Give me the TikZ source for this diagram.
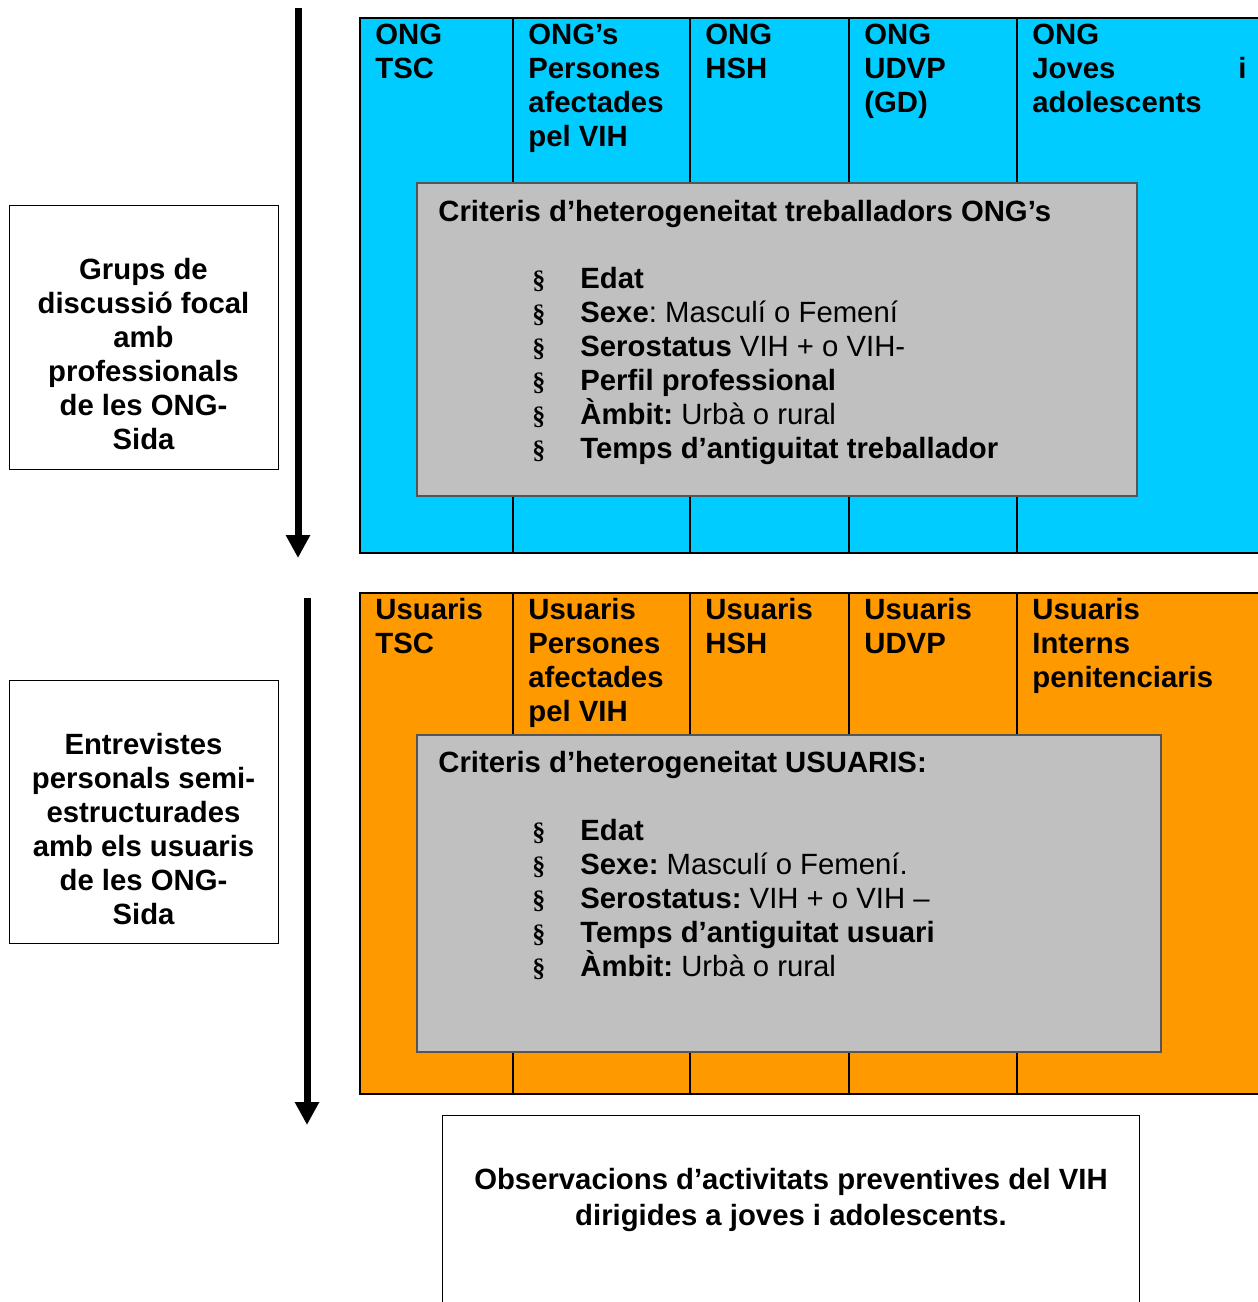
\documentclass[tikz,border=0pt]{standalone}
\usepackage{fontspec}
\setmainfont{Liberation Sans}
\newfontfamily\sectfont{Liberation Serif}
\usetikzlibrary{arrows.meta,positioning}

\definecolor{ongblue}{HTML}{00CCFF}
\definecolor{usuorange}{HTML}{FF9900}
\definecolor{critgray}{HTML}{C0C0C0}
\definecolor{critedge}{HTML}{555555}

\newcommand{\bul}{\makebox[24pt][l]{\sectfont\bfseries\fontsize{13}{17}\selectfont §}}

\tikzset{
  tablebox/.style={draw=black, line width=1pt},
  coldiv/.style={draw=black, line width=1pt},
  critbox/.style={fill=critgray, draw=critedge, line width=0.6pt},
  sidebox/.style={draw=black, line width=0.5pt},
  hdr/.style={anchor=north west, inner sep=0pt, align=left, font=\bfseries},
  crittitle/.style={anchor=north west, inner sep=0pt, font=\bfseries},
  crititems/.style={anchor=north west, inner sep=0pt, align=left},
  sidetext/.style={anchor=north, inner sep=0pt, align=center, font=\bfseries},
  flow/.style={line width=3.5pt, -{Triangle[length=11.5pt,width=11.5pt]}},
}

\begin{document}
\frenchspacing
\fontsize{14.65pt}{17pt}\selectfont
\begin{tikzpicture}[x=0.5pt, y=-0.5pt]
  \useasboundingbox (0,0) rectangle (1258,1302);

  % ---- focus groups with ONG professionals ----
  \coordinate (a1top) at (298,8);
  \coordinate (a1end) at (298,558);
  \draw[flow] (a1top) -- (a1end);

  \draw[sidebox] (9,205) rectangle (278,469);
  \node[sidetext] (grups) at (143.5,257.5) {Grups de\\discussió focal\\amb\\professionals\\de les ONG-\\Sida};

  \fill[ongblue] (360,18) rectangle (1270,553);
  \foreach \cx in {513,690,849,1017}
    \draw[coldiv] (\cx,18) -- (\cx,553);
  \draw[tablebox] (360,18) rectangle (1270,553);

  \node[hdr] (ongtsc) at (375,24) {ONG\\TSC};
  \node[hdr] (ongvih) at (528,24) {ONG’s\\Persones\\afectades\\pel VIH};
  \node[hdr] (onghsh) at (705,24) {ONG\\HSH};
  \node[hdr] (ongudvp) at (864,24) {ONG\\UDVP\\(GD)};
  \node[hdr] (ongjoves) at (1032,24) {ONG\\\makebox[107pt][l]{Joves\hfill i}\\adolescents};

  \draw[critbox] (417,183) rectangle (1137,496);
  \node[crittitle] (crit1) at (438,199.5) {Criteris d’heterogeneitat treballadors ONG’s};
  \node[crititems] (items1) at (532,266.5) {%
    \bul\textbf{Edat}\\
    \bul\textbf{Sexe}: Masculí o Femení\\
    \bul\textbf{Serostatus} VIH + o VIH-\\
    \bul\textbf{Perfil professional}\\
    \bul\textbf{Àmbit:} Urbà o rural\\
    \bul\textbf{Temps d’antiguitat treballador}};

  % ---- interviews with users ----
  \coordinate (a2top) at (307,598);
  \coordinate (a2end) at (307,1125);
  \draw[flow] (a2top) -- (a2end);

  \draw[sidebox] (9,680) rectangle (278,943);
  \node[sidetext] (entrev) at (143.5,732.5) {Entrevistes\\personals semi-\\estructurades\\amb els usuaris\\de les ONG-\\Sida};

  \fill[usuorange] (360,593) rectangle (1270,1094);
  \foreach \cx in {513,690,849,1017}
    \draw[coldiv] (\cx,593) -- (\cx,1094);
  \draw[tablebox] (360,593) rectangle (1270,1094);

  \node[hdr] (usutsc) at (375,598) {Usuaris\\TSC};
  \node[hdr] (usuvih) at (528,598) {Usuaris\\Persones\\afectades\\pel VIH};
  \node[hdr] (usuhsh) at (705,598) {Usuaris\\HSH};
  \node[hdr] (usuudvp) at (864,598) {Usuaris\\UDVP};
  \node[hdr] (usuintern) at (1032,598) {Usuaris\\Interns\\penitenciaris};

  \draw[critbox] (417,735) rectangle (1161,1052);
  \node[crittitle] (crit2) at (438,750.5) {Criteris d’heterogeneitat USUARIS:};
  \node[crititems] (items2) at (532,818.5) {%
    \bul\textbf{Edat}\\
    \bul\textbf{Sexe:} Masculí o Femení.\\
    \bul\textbf{Serostatus:} VIH + o VIH –\\
    \bul\textbf{Temps d’antiguitat usuari}\\
    \bul\textbf{Àmbit:} Urbà o rural};

  % ---- observations ----
  \draw[sidebox] (442,1115) rectangle (1139,1330);
  \node[sidetext] (observ) at (791,1168) {Observacions d’activitats preventives del VIH\\[1pt]dirigides a joves i adolescents.};

\end{tikzpicture}
\end{document}
